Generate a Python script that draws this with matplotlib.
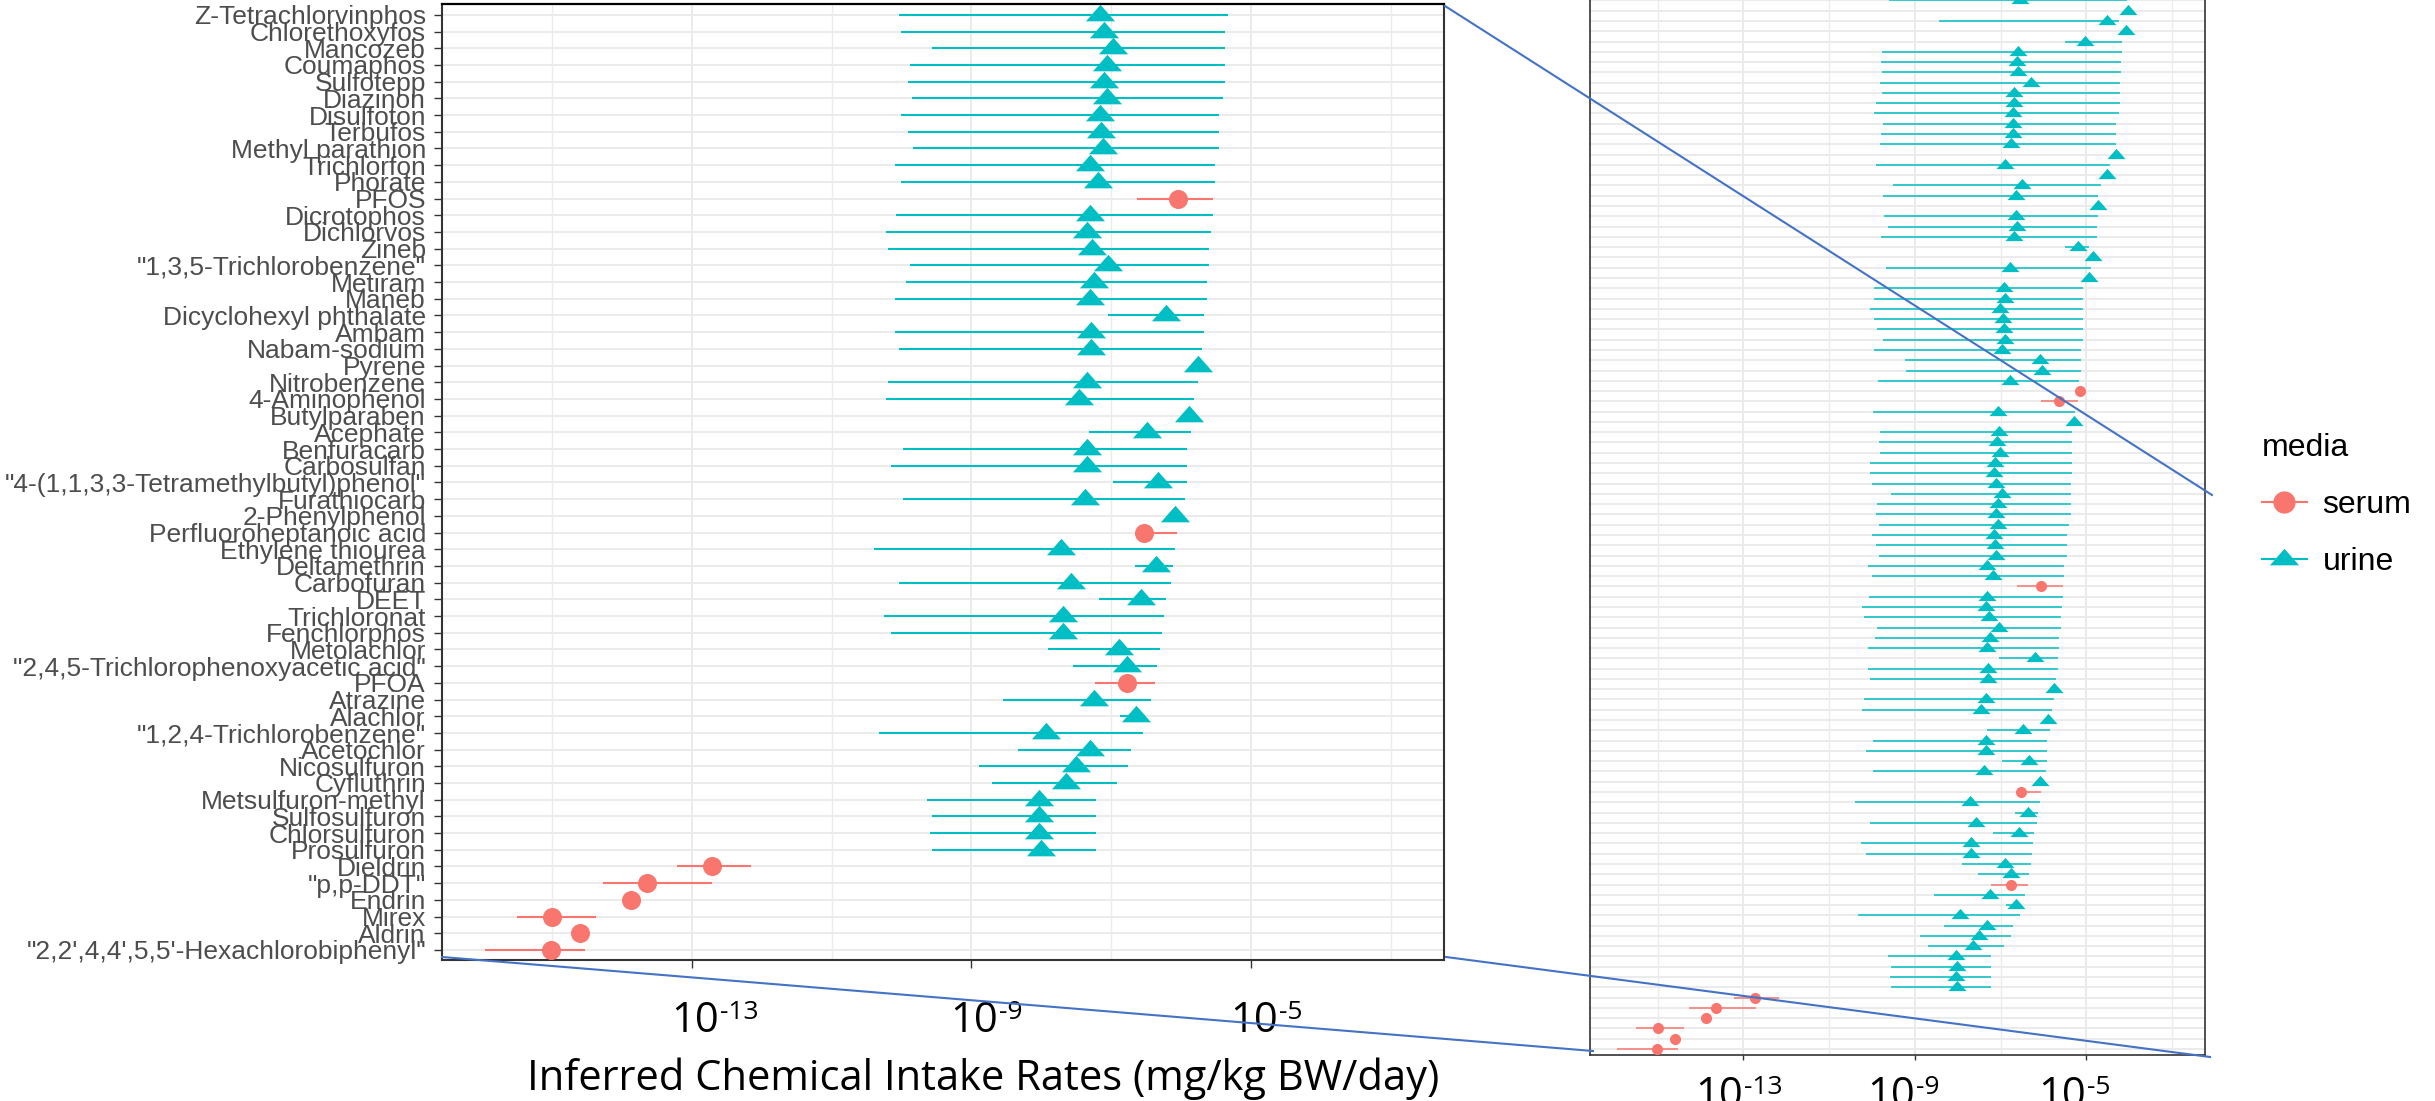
import numpy as np
import matplotlib
matplotlib.use("Agg")
import matplotlib.pyplot as plt
from matplotlib.lines import Line2D
from matplotlib.ticker import NullFormatter

# ---------------- data (log10 of intake rate, mg/kg BW/day) ----------------
# rows shown (with names) in the zoomed panel, top to bottom
chemicals = [
    "Z-Tetrachlorvinphos", "Chlorethoxyfos", "Mancozeb", "Coumaphos", "Sulfotepp",
    "Diazinon", "Disulfoton", "Terbufos", "Methyl parathion", "Trichlorfon",
    "Phorate", "PFOS", "Dicrotophos", "Dichlorvos", "Zineb",
    '"1,3,5-Trichlorobenzene"', "Metiram", "Maneb", "Dicyclohexyl phthalate", "Ambam",
    "Nabam-sodium", "Pyrene", "Nitrobenzene", "4-Aminophenol", "Butylparaben",
    "Acephate", "Benfuracarb", "Carbosulfan", '"4-(1,1,3,3-Tetramethylbutyl)phenol"', "Furathiocarb",
    "2-Phenylphenol", "Perfluoroheptanoic acid", "Ethylene thiourea", "Deltamethrin", "Carbofuran",
    "DEET", "Trichloronat", "Fenchlorphos", "Metolachlor", '"2,4,5-Trichlorophenoxyacetic acid"',
    "PFOA", "Atrazine", "Alachlor", '"1,2,4-Trichlorobenzene"', "Acetochlor",
    "Nicosulfuron", "Cyfluthrin", "Metsulfuron-methyl", "Sulfosulfuron", "Chlorsulfuron",
    "Prosulfuron", "Dieldrin", '"p,p-DDT"', "Endrin", "Mirex",
    "Aldrin", "\"2,2',4,4',5,5'-Hexachlorobiphenyl\"",
]
media = [
    "urine", "urine", "urine", "urine", "urine",
    "urine", "urine", "urine", "urine", "urine",
    "urine", "serum", "urine", "urine", "urine",
    "urine", "urine", "urine", "urine", "urine",
    "urine", "urine", "urine", "urine", "urine",
    "urine", "urine", "urine", "urine", "urine",
    "urine", "serum", "urine", "urine", "urine",
    "urine", "urine", "urine", "urine", "urine",
    "serum", "urine", "urine", "urine", "urine",
    "urine", "urine", "urine", "urine", "urine",
    "urine", "serum", "serum", "serum", "serum",
    "serum", "serum",
]
log_median = [
    -7.16, -7.10, -6.98, -7.06, -7.10, -7.06, -7.16, -7.14, -7.12, -7.31,
    -7.19, -6.05, -7.31, -7.35, -7.27, -7.05, -7.24, -7.31, -6.21, -7.29,
    -7.29, -5.76, -7.35, -7.46, -5.89, -6.48, -7.34, -7.34, -6.33, -7.38,
    -6.09, -6.53, -7.72, -6.36, -7.58, -6.58, -7.69, -7.69, -6.89, -6.77,
    -6.77, -7.24, -6.64, -7.94, -7.31, -7.50, -7.64, -8.04, -8.03, -8.04,
    -8.01, -12.72, -13.64, -13.88, -15.00, -14.60, -15.02,
]
log_lower = [
    -10.04, -10.01, -9.56, -9.88, -9.91, -9.85, -10.01, -9.91, -9.83, -10.09,
    -10.01, -6.63, -10.08, -10.23, -10.19, -9.88, -9.94, -10.09, -7.04, -10.09,
    -10.04, None, -10.19, -10.23, None, -7.32, -9.98, -10.15, -6.98, -9.98,
    None, -6.60, -10.40, -6.66, -10.04, -7.18, -10.25, -10.15, -7.91, -7.54,
    -7.23, -8.55, -6.87, -10.32, -8.33, -8.89, -8.70, -9.64, -9.56, -9.59,
    -9.56, -13.21, -14.28, None, -15.50, None, -15.96,
]
log_upper = [
    -5.33, -5.37, -5.37, -5.37, -5.37, -5.40, -5.46, -5.46, -5.46, -5.52,
    -5.52, -5.54, -5.54, -5.57, -5.60, -5.60, -5.63, -5.63, -5.67, -5.67,
    -5.70, None, -5.76, -5.81, None, -5.85, -5.91, -5.91, -5.91, -5.95,
    None, -6.06, -6.09, -6.12, -6.15, -6.22, -6.25, -6.27, -6.30, -6.34,
    -6.37, -6.43, -6.52, -6.55, -6.71, -6.76, -6.92, -7.22, -7.22, -7.22,
    -7.22, -12.16, -12.71, None, -14.38, None, -14.53,
]

# rows above the zoomed region, only visible (unlabelled) in the overview panel, top to bottom
upper_media = ["urine"] * 38 + ["serum", "serum"] + ["urine"] * 6
upper_median = [
    -6.54, -4.03, -4.51, -4.08, -5.03, -6.59, -6.62, -6.60, -6.29, -6.69,
    -6.69, -6.71, -6.71, -6.72, -6.75, -4.32, -6.89, -4.53, -6.50, -6.65,
    -4.74, -6.65, -6.62, -6.68, -5.20, -4.84, -6.78, -4.94, -6.93, -6.89,
    -7.01, -6.95, -6.93, -6.89, -6.96, -6.08, -6.04, -6.78, -5.16, -5.65,
    -7.07, -5.29, -7.04, -7.08, -7.01, -7.14,
]
upper_lower = [
    -9.60, None, -8.43, None, -5.50, -9.76, -9.79, -9.76, -9.82, -9.76,
    -9.90, -9.95, -9.74, -9.79, -9.81, None, -9.91, None, -9.51, -9.75,
    None, -9.72, -9.63, -9.79, -5.50, None, -9.67, None, -9.95, -9.95,
    -10.04, -9.95, -9.88, -9.74, -9.95, -9.24, -9.21, -9.87, None, -6.05,
    -9.97, None, -9.81, -9.83, -9.81, -10.04,
]
upper_upper = [
    -4.05, None, -4.24, None, -4.16, -4.16, -4.19, -4.19, -4.21, -4.21,
    -4.21, -4.24, -4.30, -4.30, -4.30, None, -4.44, None, -4.65, -4.74,
    None, -4.74, -4.76, -4.76, -4.94, None, -4.90, None, -5.09, -5.09,
    -5.09, -5.09, -5.09, -5.09, -5.13, -5.13, -5.13, -5.17, None, -5.20,
    -5.26, None, -5.33, -5.33, -5.33, -5.33,
]

tick_exponents = [-13, -9, -5]
minor_exponents = [-15, -11, -7, -3]
x_label = "Inferred Chemical Intake Rates (mg/kg BW/day)"
legend_title = "media"
media_levels = ["serum", "urine"]
media_colors = {"serum": "#F8766D", "urine": "#00BFC4"}

# ---------------- styling / layout ----------------
W, H = 2435, 1101
GG_FONT = "Liberation Sans"
PPT_FONT = "Open Sans"
plt.rcParams["font.family"] = [GG_FONT, "DejaVu Sans"]

TRI = [(-1.5, -0.6), (1.5, -0.6), (0.0, 1.1)]
GRID_C = "#EBEBEB"
SPINE_C = "#333333"
XLIM = (10 ** -16.58, 10 ** -2.235)

fig = plt.figure(figsize=(W / 100, H / 100), dpi=100)


def px_rect(l, t, r, b):
    return [l / W, 1 - b / H, (r - l) / W, (b - t) / H]


ax = fig.add_axes(px_rect(442, 4, 1444, 960))
ax2 = fig.add_axes(px_rect(1590, 0, 2205, 1055))

n_main = len(chemicals)
k_main = np.arange(n_main)[::-1].astype(float)
k_upper = (n_main + np.arange(len(upper_median)))[::-1].astype(float)

med_main = np.array(log_median, dtype=float)
lo_main = np.array(log_lower, dtype=float)
hi_main = np.array(log_upper, dtype=float)
med_up = np.array(upper_median, dtype=float)
lo_up = np.array(upper_lower, dtype=float)
hi_up = np.array(upper_upper, dtype=float)

k_all = np.concatenate([k_upper, k_main])
med_all = np.concatenate([med_up, med_main])
lo_all = np.concatenate([lo_up, lo_main])
hi_all = np.concatenate([hi_up, hi_main])
media_all = np.array(list(upper_media) + list(media))


def draw_rows(a, k, med, lo, hi, kinds, tri_ms, circ_ms, lw):
    for kind in media_levels:
        c = media_colors[kind]
        sel = kinds == kind
        has = sel & ~np.isnan(lo)
        a.hlines(k[has], 10 ** lo[has], 10 ** hi[has], color=c, lw=lw, zorder=2)
        a.plot(10 ** med[sel], k[sel], ls="none", color=c, mew=0, zorder=3,
               marker=("o" if kind == "serum" else TRI),
               ms=(circ_ms if kind == "serum" else tri_ms))


draw_rows(ax, k_main, med_main, lo_main, hi_main, np.array(media), 21, 13.7, 1.5)
draw_rows(ax2, k_all, med_all, lo_all, hi_all, media_all, 13, 8.0, 1.1)

for a in (ax, ax2):
    a.set_xscale("log")
    a.set_xlim(*XLIM)
    a.set_xticks([10.0 ** e for e in tick_exponents])
    a.set_xticks([10.0 ** e for e in minor_exponents], minor=True)
    a.xaxis.set_minor_formatter(NullFormatter())
    a.tick_params(axis="x", which="minor", length=0, labelbottom=False)
    a.tick_params(axis="x", which="major", labelbottom=False, color=SPINE_C, width=1.0)
    a.grid(True, which="major", axis="both", color=GRID_C, lw=1.4)
    a.grid(True, which="minor", axis="x", color=GRID_C, lw=1.0)
    a.set_axisbelow(True)

# zoomed panel
ax.set_ylim(-0.6, 56.65)
ax.set_yticks(k_main)
ax.set_yticklabels(chemicals)
ax.tick_params(axis="y", length=5.8, width=1.0, color=SPINE_C, pad=5.8,
               labelsize=19, labelcolor="#4D4D4D")
ax.tick_params(axis="x", which="major", length=5.8)
for s in ("left", "right", "bottom"):
    ax.spines[s].set_color(SPINE_C)
    ax.spines[s].set_linewidth(1.5)
ax.spines["top"].set_color("black")
ax.spines["top"].set_linewidth(1.6)

# overview panel
ax2.set_ylim(-0.584, 102.04)
ax2.set_yticks(k_all)
ax2.tick_params(axis="y", length=0, labelleft=False)
ax2.tick_params(axis="x", which="major", length=3.5)
ax2.spines["top"].set_visible(False)
for s in ("left", "right", "bottom"):
    ax2.spines[s].set_color(SPINE_C)
    ax2.spines[s].set_linewidth(1.2)

# power-of-ten tick labels (large, as in the reference)
renderer = fig.canvas.get_renderer()


def power_labels(a, dx, base_y, sup_y):
    for e in tick_exponents:
        xpx = a.transData.transform((10.0 ** e, 1.0))[0]
        t = fig.text((xpx + dx) / W, 1 - base_y / H, "10", ha="center", va="baseline",
                     fontsize=30, family=PPT_FONT, color="black")
        bb = t.get_window_extent(renderer)
        fig.text((bb.x1 + 1) / W, 1 - sup_y / H, str(e), ha="left",
                 va="baseline", fontsize=19, family=PPT_FONT, color="black")


power_labels(ax, 3, 1032, 1019)
power_labels(ax2, -24, 1107, 1094)

fig.text(983 / W, 1 - 1090 / H, x_label, ha="center", va="baseline", fontsize=30,
         family=PPT_FONT, color="black")

# legend
h_serum = Line2D([], [], color=media_colors["serum"], lw=1.5, marker="o", ms=16, mew=0)
h_urine = Line2D([], [], color=media_colors["urine"], lw=1.5, marker=TRI, ms=21, mew=0)
fig.legend([h_serum, h_urine], media_levels, title=legend_title, loc="upper left",
           bbox_to_anchor=(2244 / W, 1 - 415 / H), frameon=False, fontsize=23,
           title_fontsize=23, handlelength=1.4, handletextpad=0.5, labelspacing=0.85,
           borderpad=0.56, borderaxespad=0, alignment="left")

# zoom connector lines
BLUE = "#4472C4"
for (x0, y0), (x1, y1) in (((1445, 6), (2212, 495)),
                           ((1446, 957), (2210, 1057)),
                           ((442, 957), (1593, 1051))):
    fig.add_artist(Line2D([x0 / W, x1 / W], [1 - y0 / H, 1 - y1 / H],
                          transform=fig.transFigure, color=BLUE, lw=1.5, zorder=10))

fig.savefig("out.png", dpi=100)
